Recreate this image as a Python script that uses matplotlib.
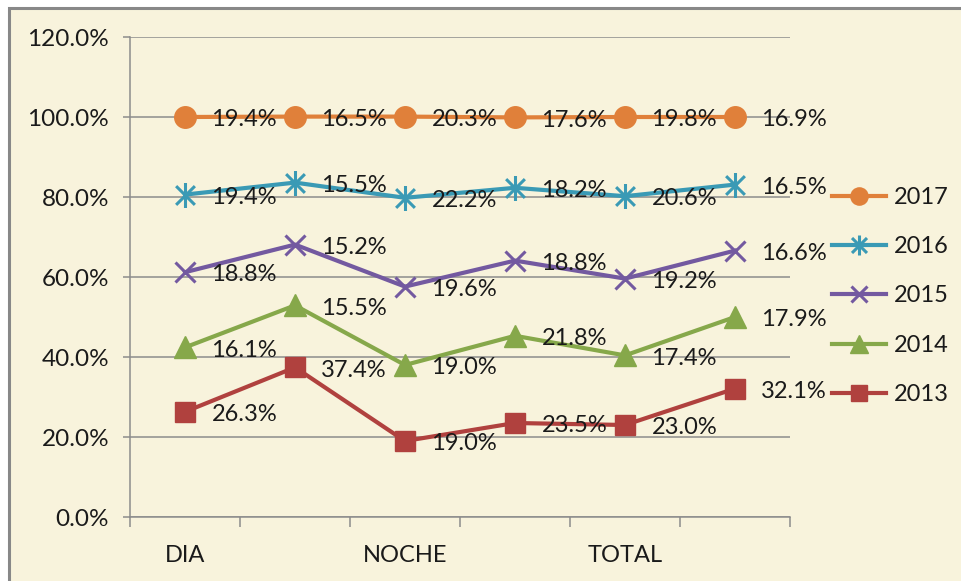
import matplotlib
matplotlib.use("Agg")
import matplotlib.pyplot as plt
from matplotlib.path import Path
from matplotlib.patches import Rectangle
from matplotlib.ticker import FixedLocator, PercentFormatter
import numpy as np

plt.rcParams['font.family'] = ['Lato', 'DejaVu Sans']

categories = ["DIA", "", "NOCHE", "", "TOTAL", ""]
series_names = ["2013", "2014", "2015", "2016", "2017"]
v2013 = [26.3, 37.4, 19.0, 23.5, 23.0, 32.1]
v2014 = [16.1, 15.5, 19.0, 21.8, 17.4, 17.9]
v2015 = [18.8, 15.2, 19.6, 18.8, 19.2, 16.6]
v2016 = [19.4, 15.5, 22.2, 18.2, 20.6, 16.5]
v2017 = [19.4, 16.5, 20.3, 17.6, 19.8, 16.9]
y_ticks = [0, 20, 40, 60, 80, 100, 120]

series = [v2013, v2014, v2015, v2016, v2017]
colors = ["#B0413E", "#86A84A", "#7359A0", "#3A9AB5", "#E0803A"]

star = Path([(0, -1), (0, 1), (-0.75, -0.75), (0.75, 0.75), (-0.75, 0.75), (0.75, -0.75)],
            [Path.MOVETO, Path.LINETO, Path.MOVETO, Path.LINETO, Path.MOVETO, Path.LINETO])
marker_specs = [
    dict(marker='s', markersize=15, mfc=colors[0], mec=colors[0]),
    dict(marker='^', markersize=16, mfc=colors[1], mec=colors[1]),
    dict(marker='x', markersize=14, mec=colors[2], mew=2.2),
    dict(marker=star, markersize=18, mfc='none', mec=colors[3], mew=2.2),
    dict(marker='o', markersize=15.5, mfc=colors[4], mec=colors[4]),
]

W, H = 961, 581
fig = plt.figure(figsize=(W / 100, H / 100), dpi=100)
fig.patch.set_facecolor('white')
fig.patches.append(Rectangle((9 / W, -0.1), 1.2, 1.1 - 8 / H, transform=fig.transFigure,
                             facecolor='#F8F3DC', edgecolor='#888888', linewidth=2.2, zorder=-5))

ax = fig.add_axes([130 / W, 64 / H, 660 / W, 480 / H])
ax.set_zorder(2)
ax.set_facecolor('none')

x = np.arange(len(categories))
cum = np.zeros(len(categories))
lines = []
for vals, name, col, ms in zip(series, series_names, colors, marker_specs):
    vals = np.array(vals)
    cum = cum + vals
    ln, = ax.plot(x, cum, color=col, lw=3, label=name, zorder=3, clip_on=False, **ms)
    lines.append(ln)
    for xi, yi, v in zip(x, cum, vals):
        ax.annotate(f"{v:.1f}%", (xi, yi), xytext=(19, -2), textcoords='offset points',
                    ha='left', va='center', fontsize=17, color='#1a1a1a', zorder=4)

ax.set_xlim(-0.45, len(categories) - 0.5)
ax.set_ylim(0, 120)
ax.yaxis.set_major_locator(FixedLocator(y_ticks))
ax.yaxis.set_major_formatter(PercentFormatter(decimals=1))
ax.grid(axis='y', color='#8C8C8C', lw=1.1)
ax.set_axisbelow(True)

ax.set_xticks(x)
ax.set_xticklabels(categories)
ax.set_xticks(np.arange(-0.5, len(categories)), minor=True)
ax.tick_params(axis='x', which='major', length=0, pad=20, labelsize=17, labelcolor='#1a1a1a')
ax.tick_params(axis='x', which='minor', length=7, width=1.1, color='#8C8C8C', direction='out')
ax.tick_params(axis='y', length=5, width=1.1, color='#8C8C8C', pad=10, labelsize=17.5,
               labelcolor='#1a1a1a')
for s in ['top', 'right']:
    ax.spines[s].set_visible(False)
for s in ['left', 'bottom']:
    ax.spines[s].set_color('#8C8C8C')
    ax.spines[s].set_linewidth(1.1)

handles = lines[::-1]
leg = fig.legend(handles, [h.get_label() for h in handles], loc='center left',
                 bbox_to_anchor=(832 / W, 1 - 296 / H), frameon=False, fontsize=17,
                 handlelength=2.3, handletextpad=0.3, labelspacing=1.2, borderpad=0,
                 borderaxespad=0, markerscale=0.8, labelcolor='#1a1a1a')
leg.set_zorder(3)

fig.savefig("out.png", dpi=100)
